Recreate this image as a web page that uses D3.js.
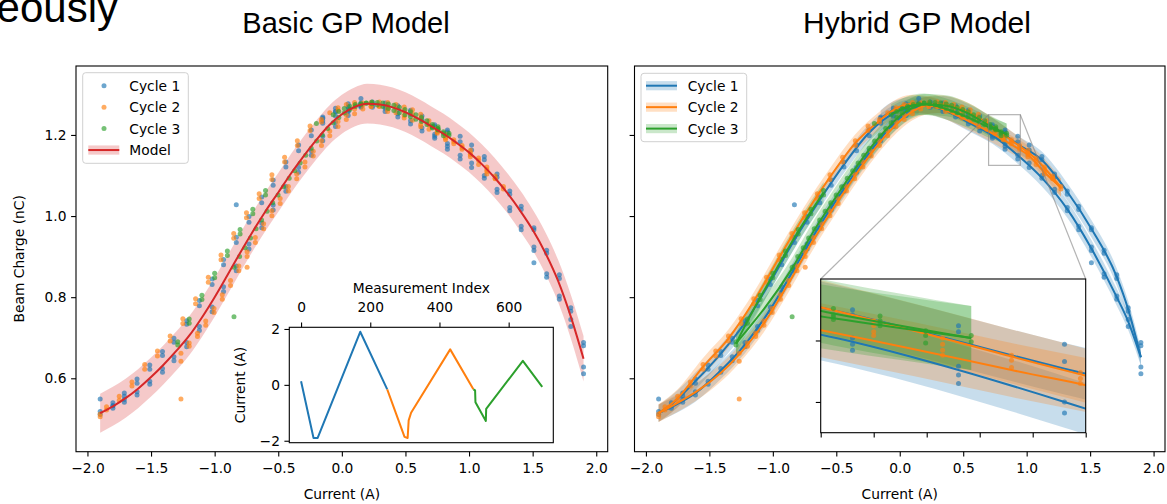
<!DOCTYPE html>
<html>
<head>
<meta charset="utf-8">
<script src="https://cdn.jsdelivr.net/npm/d3@7"></script>
<style>
  html, body { margin: 0; padding: 0; background: #fff; }
  svg { display: block; }
</style>
</head>
<body>
<svg id="chart" width="1167" height="504"></svg>
<script>
// ---------------------------------------------------------------------------
// Data
// ---------------------------------------------------------------------------
const cycleNames = ["Cycle 1", "Cycle 2", "Cycle 3"];
const modelName = "Model";

const xTicks = [-2, -1.5, -1, -0.5, 0, 0.5, 1, 1.5, 2];
const yTicks = [0.6, 0.8, 1.0, 1.2];
const indexTicks = [0, 200, 400, 600];
const insetCurrentTicks = [-2, 0, 2];
const zoomXTicks = [0.70, 0.75, 0.80, 0.85, 0.90, 0.95];
const zoomYTicks = [1.15, 1.20];
const zoomWindowX = [0.70, 0.95];
const zoomWindowY = [1.125, 1.25];

// Basic GP model: posterior mean and standard deviation
const basicCurrent = [-1.9, -1.8, -1.7, -1.6, -1.5, -1.4, -1.3, -1.2, -1.1, -1.0,
  -0.9, -0.8, -0.7, -0.6, -0.5, -0.4, -0.3, -0.2, -0.1, 0.0,
  0.1, 0.2, 0.3, 0.4, 0.5, 0.6, 0.7, 0.8, 0.9, 1.0,
  1.1, 1.2, 1.3, 1.4, 1.5, 1.6, 1.7, 1.8, 1.9];
const basicMean = [0.514, 0.531, 0.551, 0.575, 0.603, 0.634, 0.668, 0.705, 0.750, 0.800,
  0.854, 0.909, 0.962, 1.012, 1.058, 1.105, 1.148, 1.188, 1.224, 1.251,
  1.269, 1.277, 1.275, 1.268, 1.256, 1.240, 1.222, 1.203, 1.181, 1.157,
  1.128, 1.095, 1.057, 1.014, 0.966, 0.909, 0.840, 0.752, 0.648];
const basicStd = [0.048, 0.048, 0.048, 0.048, 0.048, 0.048, 0.048, 0.048, 0.048, 0.048,
  0.048, 0.048, 0.048, 0.048, 0.048, 0.048, 0.048, 0.048, 0.048, 0.048,
  0.048, 0.049, 0.049, 0.049, 0.049, 0.049, 0.049, 0.049, 0.049, 0.049,
  0.049, 0.049, 0.049, 0.050, 0.050, 0.051, 0.052, 0.054, 0.056];

// Measurements: current setting (A) and the charge readings (nC) taken there, in order
const cycle1Current = [
  0.15, 0.05, -0.05, -0.15, -0.24, -0.34, -0.44, -0.54, -0.63, -0.73, -0.83, -0.93, -1.02, -1.12, -1.22, -1.32, -1.41, -1.51, -1.61, -1.71, -1.80, -1.90,
  -1.80, -1.71, -1.61, -1.51, -1.41, -1.32, -1.22, -1.12, -1.02, -0.93,
  -0.83, -0.73, -0.63, -0.54, -0.44, -0.34, -0.24, -0.15, -0.05, 0.05,
  0.15, 0.24, 0.34, 0.44, 0.54, 0.63, 0.73, 0.83, 0.93, 1.02,
  1.12, 1.22, 1.32, 1.41, 1.51, 1.61, 1.71, 1.80, 1.90,
  1.90, 1.80, 1.71, 1.61, 1.51, 1.41, 1.32, 1.22, 1.12, 1.02,
  0.93, 0.83, 0.73, 0.63, 0.54, 0.44, 0.34, 0.24, 0.15, 0.05, -0.05, -0.15];
const cycle1Charge = [
  [1.276, 1.268], [1.268, 1.259], [1.258, 1.247], [1.241, 1.229], [1.212, 1.198], [1.175, 1.161], [1.133, 1.121], [1.089, 1.076], [1.047, 1.033], [0.999, 0.985],
  [0.948, 0.935, 1.028], [0.893, 0.880], [0.845, 0.831], [0.792, 0.779], [0.742, 0.733], [0.699, 0.689], [0.666, 0.656], [0.633, 0.622], [0.598, 0.588], [0.564, 0.556],
  [0.540, 0.532], [0.549, 0.518, 0.511],
  [0.532, 0.526], [0.548, 0.541], [0.567, 0.559], [0.593, 0.585], [0.624, 0.615], [0.653, 0.643], [0.688, 0.678], [0.728, 0.718], [0.776, 0.764], [0.826, 0.814],
  [0.877, 0.865], [0.931, 0.919], [0.983, 0.971], [1.027, 1.015], [1.073, 1.061], [1.120, 1.108], [1.161, 1.150], [1.197, 1.186], [1.232, 1.221], [1.258, 1.248],
  [1.290, 1.272], [1.281, 1.272], [1.279, 1.270], [1.272, 1.263], [1.261, 1.251], [1.247, 1.237], [1.225, 1.221], [1.212, 1.207], [1.197, 1.183], [1.175, 1.163],
  [1.147, 1.139], [1.104, 1.096], [1.062, 1.054], [1.024, 1.016], [0.971, 0.966], [0.916, 0.908], [0.855, 0.846], [0.774, 0.765], [0.688, 0.680],
  [0.628, 0.611], [0.745, 0.728], [0.803, 0.795], [0.858, 0.849], [0.924, 0.915, 0.885], [0.975, 0.966], [1.021, 1.013], [1.066, 1.058], [1.100, 1.093], [1.131, 1.120],
  [1.150, 1.141], [1.179, 1.172, 1.165], [1.202, 1.197, 1.192], [1.218, 1.210], [1.235, 1.227], [1.252, 1.244], [1.266, 1.258], [1.276, 1.268], [1.279, 1.271], [1.277, 1.269],
  [1.266, 1.257], [1.244, 1.235]];

const cycle2Current = [
  -0.25, -0.35, -0.45, -0.55, -0.65, -0.75, -0.85, -0.95, -1.05, -1.15, -1.25, -1.35, -1.45, -1.55, -1.65, -1.75, -1.85, -1.90,
  -1.265, -1.2, -1.135, -1.07, -1.005, -0.94, -0.875, -0.81, -0.745, -0.68,
  -0.615, -0.55, -0.485, -0.42, -0.355, -0.29, -0.225, -0.16, -0.095, -0.03,
  0.035, 0.1, 0.165, 0.23, 0.295, 0.36, 0.425, 0.49, 0.555, 0.62,
  0.685, 0.75, 0.815, 0.88, 0.945, 1.01, 1.075, 1.14, 1.205, 1.27,
  1.205, 1.14, 1.075, 1.01, 0.945, 0.88, 0.815, 0.75, 0.685, 0.62,
  0.555, 0.49, 0.425, 0.36, 0.295, 0.23, 0.165, 0.1, 0.035, -0.03, -0.095, -0.16];
const cycle2Charge = [
  [1.222, 1.211], [1.186, 1.174], [1.145, 1.133], [1.102, 1.090], [1.055, 1.043], [1.008, 0.996], [0.957, 0.945], [0.904, 0.892], [0.849, 0.837], [0.796, 0.784],
  [0.747, 0.735], [0.704, 0.692], [0.667, 0.655], [0.634, 0.622], [0.591, 0.581], [0.556, 0.546], [0.530, 0.522], [0.512, 0.505],
  [0.642, 0.549, 0.662], [0.687, 0.679], [0.711, 0.703], [0.741, 0.731], [0.772, 0.762], [0.806, 0.795], [0.841, 0.829], [0.877, 0.865], [0.912, 0.900, 0.874], [0.947, 0.935],
  [0.981, 0.969], [1.013, 1.001], [1.043, 1.031], [1.073, 1.062], [1.104, 1.092], [1.133, 1.121], [1.160, 1.148], [1.186, 1.174], [1.210, 1.198], [1.233, 1.221],
  [1.250, 1.238], [1.264, 1.252], [1.274, 1.264], [1.280, 1.270], [1.281, 1.271], [1.280, 1.270], [1.275, 1.265], [1.269, 1.259], [1.262, 1.252], [1.251, 1.241],
  [1.235, 1.225], [1.216, 1.212], [1.202, 1.197], [1.188, 1.184], [1.174, 1.169], [1.162, 1.156], [1.143, 1.137], [1.121, 1.115], [1.099, 1.093], [1.073, 1.067],
  [1.092], [1.110, 1.104], [1.127], [1.152, 1.146], [1.165], [1.178], [1.192, 1.188], [1.207, 1.204], [1.214], [1.226, 1.220],
  [1.236], [1.248, 1.242], [1.255], [1.264, 1.258], [1.270], [1.276, 1.270], [1.279], [1.280, 1.274], [1.275], [1.267, 1.261], [1.255], [1.238, 1.232]];

const cycle3Current = [
  -0.2, -0.6, -0.7, -0.8, -0.9, -1.0, -1.1, -1.2, -1.29,
  -0.848, -0.804, -0.761, -0.718, -0.674, -0.631, -0.588, -0.544, -0.501, -0.458,
  -0.414, -0.371, -0.328, -0.284, -0.241, -0.198, -0.154, -0.111, -0.068, -0.024,
  0.019, 0.062, 0.106, 0.149, 0.192, 0.236, 0.279, 0.322, 0.366, 0.409,
  0.452, 0.496, 0.539, 0.582, 0.626, 0.669, 0.712, 0.756, 0.799, 0.842,
  0.756, 0.712, 0.669, 0.626, 0.582, 0.539, 0.496, 0.452, 0.409, 0.366,
  0.322, 0.279, 0.236, 0.192, 0.149, 0.106, 0.062, 0.019, -0.024, -0.068];
const cycle3Charge = [
  [1.228], [1.063, 1.052], [1.017, 1.006], [0.967, 0.956], [0.914, 0.903], [0.859, 0.848], [0.805, 0.794], [0.746, 0.736], [0.690, 0.682],
  [0.752, 0.874], [0.900], [0.922], [0.946], [0.969], [0.990], [1.012], [1.033], [1.052], [1.072],
  [1.093], [1.112], [1.131], [1.150], [1.167], [1.185], [1.200], [1.216], [1.230], [1.243],
  [1.254], [1.263], [1.270], [1.275], [1.279], [1.281], [1.280], [1.279], [1.276], [1.273],
  [1.268], [1.263], [1.257], [1.250], [1.243], [1.235], [1.226, 1.221, 1.217], [1.220, 1.216, 1.212], [1.208, 1.204, 1.198], [1.204, 1.199],
  [1.214], [1.219], [1.226], [1.233], [1.239], [1.245], [1.250], [1.255], [1.260], [1.265],
  [1.270], [1.274], [1.277], [1.278], [1.277], [1.275], [1.271], [1.265], [1.258], [1.250]];

// Hybrid GP model: mean along each cycle's sweep path, and its std per cycle
const cycle1ModelCurrent = [0.15, -0.05, -0.24, -0.44, -0.63, -0.83, -1.02, -1.22, -1.41, -1.61, -1.80, -1.90,
  -1.80, -1.61, -1.41, -1.22, -1.02, -0.83, -0.63, -0.44, -0.24, -0.05, 0.15, 0.34, 0.54, 0.73, 0.93, 1.12, 1.32, 1.51, 1.71, 1.80, 1.90,
  1.80, 1.71, 1.51, 1.32, 1.12, 0.93, 0.73, 0.54, 0.34, 0.15, -0.05, -0.15];
const cycle1ModelMean = [1.273, 1.253, 1.206, 1.127, 1.040, 0.941, 0.838, 0.737, 0.661, 0.593, 0.536, 0.514,
  0.529, 0.563, 0.619, 0.683, 0.770, 0.871, 0.977, 1.067, 1.156, 1.227, 1.270, 1.275, 1.255, 1.221, 1.177, 1.138, 1.060, 0.969, 0.850, 0.770, 0.652,
  0.740, 0.800, 0.920, 1.017, 1.094, 1.150, 1.199, 1.231, 1.262, 1.275, 1.262, 1.240];
const cycle2ModelCurrent = [-0.16, -0.35, -0.55, -0.75, -0.95, -1.15, -1.35, -1.55, -1.75, -1.90,
  -1.265, -1.07, -0.875, -0.68, -0.485, -0.29, -0.095, 0.1, 0.295, 0.49, 0.685, 0.88, 1.075, 1.27,
  1.14, 1.01, 0.88, 0.685, 0.49, 0.295, 0.1, -0.095, -0.16];
const cycle2ModelMean = [1.235, 1.180, 1.096, 1.002, 0.898, 0.790, 0.698, 0.628, 0.551, 0.514,
  0.659, 0.736, 0.835, 0.941, 1.037, 1.127, 1.204, 1.258, 1.276, 1.264, 1.230, 1.187, 1.140, 1.070,
  1.108, 1.151, 1.176, 1.211, 1.242, 1.268, 1.277, 1.252, 1.235];
const cycle3ModelCurrent = [-0.6, -0.8, -1.0, -1.2, -1.29,
  -0.848, -0.674, -0.501, -0.328, -0.154, 0.019, 0.192, 0.366, 0.539, 0.712, 0.842,
  0.712, 0.539, 0.366, 0.192, 0.019, -0.068];
const cycle3ModelMean = [1.058, 0.962, 0.854, 0.741, 0.686,
  0.871, 0.965, 1.048, 1.127, 1.197, 1.251, 1.275, 1.272, 1.253, 1.222, 1.202,
  1.218, 1.243, 1.264, 1.276, 1.264, 1.250];
const hybridStd = [0.021, 0.022, 0.026];

// Magnet current programme against measurement index
const cycle1Index = [0, 36, 48, 171, 249];
const cycle1Program = [0.13, -1.9, -1.9, 1.9, -0.16];
const cycle2Index = [249, 299, 308, 311, 318, 431, 498];
const cycle2Program = [-0.16, -1.86, -1.9, -1.27, -1.0, 1.27, -0.16];
const cycle3Index = [498, 503, 504, 534, 535, 641, 697];
const cycle3Program = [-0.16, -0.2, -0.62, -1.29, -0.86, 0.86, -0.07];

// ---------------------------------------------------------------------------
// Drawing
// ---------------------------------------------------------------------------
const svg = d3.select("#chart");
const COLORS = ["#1f77b4", "#ff7f0e", "#2ca02c"];
const RED = "#d62728";
const MPL_FONT = "DejaVu Sans";
const SLIDE_FONT = "Liberation Sans, Arial, sans-serif";
const FS = 13.8;
const DOT_R = 2.5, DOT_OP = 0.65, BAND_OP = 0.25;

svg.append("rect").attr("width", 1167).attr("height", 504).attr("fill", "#fff");

const panelL = {x0: 76, x1: 607.7, y0: 66, y1: 451.7};
const panelR = {x0: 634.5, x1: 1165, y0: 66, y1: 451.7};
const xDom = [-2.09, 2.09], yDom = [0.419, 1.370];
const xL = d3.scaleLinear().domain(xDom).range([panelL.x0, panelL.x1]);
const xR = d3.scaleLinear().domain(xDom).range([panelR.x0, panelR.x1]);
const yM = d3.scaleLinear().domain(yDom).range([panelL.y1, panelL.y0]);

// split a sweep path into runs of monotone current
function splitSweeps(xs, ys) {
  const segs = [];
  let cur = [[xs[0], ys[0]]], dir = 0;
  for (let i = 1; i < xs.length; i++) {
    const d = Math.sign(xs[i] - xs[i - 1]);
    if (dir !== 0 && d !== dir) { segs.push(cur); cur = [[xs[i - 1], ys[i - 1]]]; }
    dir = d;
    cur.push([xs[i], ys[i]]);
  }
  segs.push(cur);
  return segs.map(s => s.slice().sort((a, b) => a[0] - b[0]));
}

const cycles = [
  {name: cycleNames[0], color: COLORS[0], steps: cycle1Current, readings: cycle1Charge, mx: cycle1ModelCurrent, my: cycle1ModelMean, sd: hybridStd[0], idx: cycle1Index, prog: cycle1Program},
  {name: cycleNames[1], color: COLORS[1], steps: cycle2Current, readings: cycle2Charge, mx: cycle2ModelCurrent, my: cycle2ModelMean, sd: hybridStd[1], idx: cycle2Index, prog: cycle2Program},
  {name: cycleNames[2], color: COLORS[2], steps: cycle3Current, readings: cycle3Charge, mx: cycle3ModelCurrent, my: cycle3ModelMean, sd: hybridStd[2], idx: cycle3Index, prog: cycle3Program}
];
cycles.forEach(c => {
  c.points = [];
  c.steps.forEach((x, i) => c.readings[i].forEach(y => c.points.push([x, y])));
  c.segments = splitSweeps(c.mx, c.my);
});

const defs = svg.append("defs");
function addClip(id, r) {
  defs.append("clipPath").attr("id", id).append("rect")
    .attr("x", r.x0).attr("y", r.y0).attr("width", r.x1 - r.x0).attr("height", r.y1 - r.y0);
}
addClip("clipL", panelL);
addClip("clipR", panelR);

function fmt1(d) { return (d < 0 ? "\u2212" : "") + Math.abs(d).toFixed(1); }
function styleAxis(g) {
  g.select(".domain").remove();
  g.attr("font-family", null).attr("font-size", null);
  g.selectAll(".tick line").attr("stroke", "#000").attr("stroke-width", 1.1);
  g.selectAll(".tick text").attr("font-family", MPL_FONT).attr("font-size", FS).attr("fill", "#000");
}
function frame(g, r) {
  g.append("rect").attr("x", r.x0).attr("y", r.y0).attr("width", r.x1 - r.x0).attr("height", r.y1 - r.y0)
    .attr("fill", "none").attr("stroke", "#000").attr("stroke-width", 1.1);
}
function label(g, text, x, y, opts = {}) {
  const t = g.append("text").attr("x", x).attr("y", y).text(text)
    .attr("font-family", opts.font || MPL_FONT).attr("font-size", opts.size || FS)
    .attr("fill", "#000").attr("text-anchor", opts.anchor || "middle");
  if (opts.rotate) t.attr("transform", `rotate(${opts.rotate},${x},${y})`);
  return t;
}

// ---------- Left: basic GP model (band under the readings, mean on top) ----------
const basic = basicCurrent.map((x, i) => ({x, m: basicMean[i], s: basicStd[i]}));
const gL = svg.append("g").attr("clip-path", "url(#clipL)");
gL.append("path")
  .attr("d", d3.area().x(d => xL(d.x)).y0(d => yM(d.m - d.s)).y1(d => yM(d.m + d.s)).curve(d3.curveMonotoneX)(basic))
  .attr("fill", RED).attr("fill-opacity", BAND_OP);
cycles.forEach(c => {
  gL.append("g").selectAll("circle").data(c.points).join("circle")
    .attr("cx", d => xL(d[0])).attr("cy", d => yM(d[1])).attr("r", DOT_R)
    .attr("fill", c.color).attr("fill-opacity", DOT_OP);
});
gL.append("path")
  .attr("d", d3.line().x(d => xL(d.x)).y(d => yM(d.m)).curve(d3.curveMonotoneX)(basic))
  .attr("fill", "none").attr("stroke", RED).attr("stroke-width", 2);

// ---------- Right: hybrid GP model (all bands first, then readings and means) ----------
function drawHybrid(g, x, y) {
  cycles.forEach(c => {
    const area = d3.area().x(d => x(d[0])).y0(d => y(d[1] - c.sd)).y1(d => y(d[1] + c.sd)).curve(d3.curveMonotoneX);
    c.segments.forEach(seg => g.append("path").attr("d", area(seg))
      .attr("fill", c.color).attr("fill-opacity", BAND_OP));
  });
  cycles.forEach(c => {
    g.append("g").selectAll("circle").data(c.points).join("circle")
      .attr("cx", d => x(d[0])).attr("cy", d => y(d[1])).attr("r", DOT_R)
      .attr("fill", c.color).attr("fill-opacity", DOT_OP);
    const line = d3.line().x(d => x(d[0])).y(d => y(d[1])).curve(d3.curveMonotoneX);
    c.segments.forEach(seg => g.append("path").attr("d", line(seg)).attr("fill", "none")
      .attr("stroke", c.color).attr("stroke-width", 2));
  });
}
const gR = svg.append("g").attr("clip-path", "url(#clipR)");
drawHybrid(gR, xR, yM);

// zoom window indicator
const zoomBox = {x0: 820.7, x1: 1085.7, y0: 279, y1: 432.7};
const gInd = svg.append("g").attr("stroke", "#808080").attr("stroke-opacity", 0.6).attr("stroke-width", 1.2).attr("fill", "none");
gInd.append("rect").attr("x", xR(zoomWindowX[0])).attr("y", yM(zoomWindowY[1]))
  .attr("width", xR(zoomWindowX[1]) - xR(zoomWindowX[0])).attr("height", yM(zoomWindowY[0]) - yM(zoomWindowY[1]));
gInd.append("line").attr("x1", xR(zoomWindowX[0])).attr("y1", yM(zoomWindowY[1])).attr("x2", zoomBox.x0).attr("y2", zoomBox.y0);
gInd.append("line").attr("x1", xR(zoomWindowX[1])).attr("y1", yM(zoomWindowY[1])).attr("x2", zoomBox.x1).attr("y2", zoomBox.y0);

// zoomed inset
addClip("clipZ", zoomBox);
const xZ = d3.scaleLinear().domain(zoomWindowX).range([zoomBox.x0, zoomBox.x1]);
const yZ = d3.scaleLinear().domain(zoomWindowY).range([zoomBox.y1, zoomBox.y0]);
svg.append("rect").attr("x", zoomBox.x0).attr("y", zoomBox.y0).attr("width", zoomBox.x1 - zoomBox.x0)
  .attr("height", zoomBox.y1 - zoomBox.y0).attr("fill", "#fff");
const gZ = svg.append("g").attr("clip-path", "url(#clipZ)");
drawHybrid(gZ, xZ, yZ);
svg.append("g").attr("transform", `translate(0,${zoomBox.y1})`)
  .call(d3.axisBottom(xZ).tickValues(zoomXTicks).tickSize(4.9).tickFormat(() => "")).call(styleAxis);
svg.append("g").attr("transform", `translate(${zoomBox.x0},0)`)
  .call(d3.axisLeft(yZ).tickValues(zoomYTicks).tickSize(4.9).tickFormat(() => "")).call(styleAxis);
frame(svg, zoomBox);

// ---------- Left inset: current programme ----------
const progBox = {x0: 289.3, x1: 553.3, y0: 327.3, y1: 442.7};
const xIdx = d3.scaleLinear().domain([-34, 729]).range([progBox.x0, progBox.x1]);
const yCur = d3.scaleLinear().domain([-2.07, 2.06]).range([progBox.y1, progBox.y0]);
svg.append("rect").attr("x", progBox.x0).attr("y", progBox.y0).attr("width", progBox.x1 - progBox.x0)
  .attr("height", progBox.y1 - progBox.y0).attr("fill", "#fff");
cycles.forEach(c => {
  svg.append("path").attr("d", d3.line().x((d, i) => xIdx(c.idx[i])).y(d => yCur(d))(c.prog))
    .attr("fill", "none").attr("stroke", c.color).attr("stroke-width", 2).attr("stroke-linejoin", "round");
});
svg.append("g").attr("transform", `translate(0,${progBox.y0})`)
  .call(d3.axisTop(xIdx).tickValues(indexTicks).tickSize(4.9).tickPadding(10.4)).call(styleAxis);
svg.append("g").attr("transform", `translate(${progBox.x0},0)`)
  .call(d3.axisLeft(yCur).tickValues(insetCurrentTicks).tickSize(4.9).tickPadding(4.5)
    .tickFormat(d => (d < 0 ? "\u2212" : "") + Math.abs(d))).call(styleAxis);
frame(svg, progBox);
label(svg, "Measurement Index", (progBox.x0 + progBox.x1) / 2, 292.5);
label(svg, "Current (A)", 244.5, (progBox.y0 + progBox.y1) / 2, {rotate: -90});

// ---------- main axes ----------
[[xL, panelL, true], [xR, panelR, false]].forEach(([x, p, showY]) => {
  svg.append("g").attr("transform", `translate(0,${p.y1})`)
    .call(d3.axisBottom(x).tickValues(xTicks).tickSize(4.9).tickPadding(6.4).tickFormat(fmt1)).call(styleAxis);
  svg.append("g").attr("transform", `translate(${p.x0},0)`)
    .call(d3.axisLeft(yM).tickValues(yTicks).tickSize(4.9).tickPadding(4.6).tickFormat(showY ? fmt1 : () => "")).call(styleAxis);
  frame(svg, p);
  label(svg, "Current (A)", (p.x0 + p.x1) / 2, 499);
});
label(svg, "Beam Charge (nC)", 24, (panelL.y0 + panelL.y1) / 2, {rotate: -90});

// ---------- legends ----------
function legendBox(x, y, w, h) {
  svg.append("rect").attr("x", x).attr("y", y).attr("width", w).attr("height", h).attr("rx", 3)
    .attr("fill", "#fff").attr("fill-opacity", 0.8).attr("stroke", "#d0d0d0").attr("stroke-width", 1);
}
const rowGap = 21.45;
legendBox(82.7, 72.7, 105.6, 90.6);
cycles.forEach((c, i) => {
  const y = 85.7 + i * rowGap;
  svg.append("circle").attr("cx", 104).attr("cy", y).attr("r", DOT_R).attr("fill", c.color).attr("fill-opacity", DOT_OP);
  label(svg, c.name, 129.3, y + 5, {anchor: "start"});
});
{
  const y = 85.7 + 3 * rowGap;
  svg.append("rect").attr("x", 88.3).attr("y", y - 4.6).attr("width", 31).attr("height", 9.2).attr("fill", RED).attr("fill-opacity", BAND_OP);
  svg.append("line").attr("x1", 88.3).attr("x2", 119.3).attr("y1", y).attr("y2", y).attr("stroke", RED).attr("stroke-width", 2);
  label(svg, modelName, 129.3, y + 5, {anchor: "start"});
}
legendBox(641, 73.3, 105.7, 68.4);
cycles.forEach((c, i) => {
  const y = 85.7 + i * rowGap;
  svg.append("rect").attr("x", 646).attr("y", y - 4.6).attr("width", 31).attr("height", 9.2).attr("fill", c.color).attr("fill-opacity", BAND_OP);
  svg.append("line").attr("x1", 646).attr("x2", 677).attr("y1", y).attr("y2", y).attr("stroke", c.color).attr("stroke-width", 2);
  label(svg, c.name, 687.7, y + 5, {anchor: "start"});
});

// ---------- titles ----------
label(svg, "Basic GP Model", 346, 33, {font: SLIDE_FONT, size: 29});
label(svg, "Hybrid GP Model", 917, 33, {font: SLIDE_FONT, size: 30});
label(svg, "simultaneously", 118, 22, {font: SLIDE_FONT, size: 42, anchor: "end"});
</script>
</body>
</html>
